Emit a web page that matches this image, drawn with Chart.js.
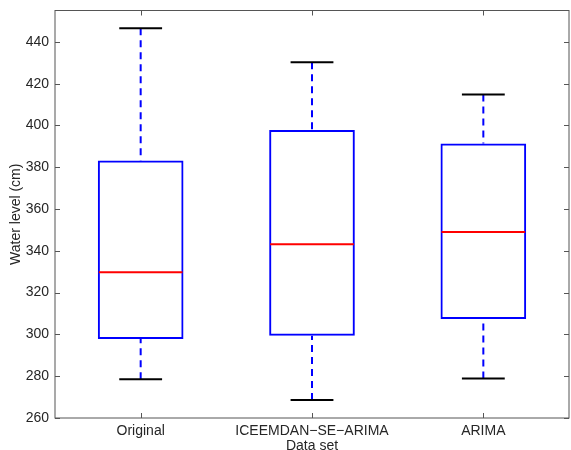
<!DOCTYPE html>
<html>
<head>
<meta charset="utf-8">
<script src="https://cdn.jsdelivr.net/npm/chart.js@4.4.1/dist/chart.umd.min.js"></script>
<style>
    html, body { margin: 0; padding: 0; background: #fff; }
    #chartWrap { width: 571px; height: 450px; }
</style>
</head>
<body>
<div id="chartWrap"><canvas id="boxChart" width="571" height="450"></canvas></div>
<script>
// ===============================
// Datos del diagrama de cajas
// ===============================
const categorias = ['Original', 'ICEEMDAN\u2212SE\u2212ARIMA', 'ARIMA'];
const minimos = [278.6, 268.6, 278.9];
const cuartil1 = [297.8, 299.4, 307.4];
const medianas = [329.8, 343.2, 349.0];
const cuartil3 = [383.2, 397.8, 391.3];
const maximos = [446.5, 430.2, 414.8];
const ticksY = [260, 280, 300, 320, 340, 360, 380, 400, 420, 440];

const FUENTE = 'Helvetica, "Liberation Sans", Arial, sans-serif';
const COLOR_MARCO = '#555555';

/**
 * Dibuja bigotes, topes, medianas y el marco estilo MATLAB
 * usando las escalas del propio gráfico.
 */
const boxplotExtras = {
    id: 'boxplotExtras',
    beforeDatasetsDraw(chart) {
        const { ctx, scales: { x, y } } = chart;
        ctx.save();
        ctx.strokeStyle = '#0000ff';
        ctx.lineWidth = 2;
        ctx.setLineDash([7, 5]);
        categorias.forEach((_, i) => {
            const px = x.getPixelForValue(i);
            // bigote superior (desde el tope hacia la caja)
            ctx.beginPath();
            ctx.moveTo(px, y.getPixelForValue(maximos[i]));
            ctx.lineTo(px, y.getPixelForValue(cuartil3[i]));
            ctx.stroke();
            // bigote inferior
            ctx.beginPath();
            ctx.moveTo(px, y.getPixelForValue(minimos[i]));
            ctx.lineTo(px, y.getPixelForValue(cuartil1[i]));
            ctx.stroke();
        });
        ctx.restore();
    },
    afterDatasetsDraw(chart) {
        const { ctx, chartArea: area, scales: { x, y } } = chart;
        const unidad = x.getPixelForValue(1) - x.getPixelForValue(0);
        ctx.save();
        ctx.setLineDash([]);
        categorias.forEach((_, i) => {
            const px = x.getPixelForValue(i);
            // topes negros
            ctx.strokeStyle = '#000000';
            ctx.lineWidth = 2;
            [minimos[i], maximos[i]].forEach(v => {
                const py = y.getPixelForValue(v);
                ctx.beginPath();
                ctx.moveTo(px - unidad * 0.125, py);
                ctx.lineTo(px + unidad * 0.125, py);
                ctx.stroke();
            });
            // mediana roja
            const pm = y.getPixelForValue(medianas[i]);
            ctx.strokeStyle = '#ff0000';
            ctx.beginPath();
            ctx.moveTo(px - unidad * 0.25 + 1, pm);
            ctx.lineTo(px + unidad * 0.25 - 1, pm);
            ctx.stroke();
        });

        // marco y marcas hacia adentro
        ctx.strokeStyle = COLOR_MARCO;
        ctx.lineWidth = 1;
        ctx.strokeRect(area.left, area.top, area.right - area.left, area.bottom - area.top);
        const largo = 5;
        ctx.beginPath();
        ticksY.forEach(v => {
            const py = Math.round(y.getPixelForValue(v)) + 0.5;
            ctx.moveTo(area.left, py); ctx.lineTo(area.left + largo, py);
            ctx.moveTo(area.right, py); ctx.lineTo(area.right - largo, py);
        });
        categorias.forEach((_, i) => {
            const px = Math.round(x.getPixelForValue(i)) + 0.5;
            ctx.moveTo(px, area.bottom); ctx.lineTo(px, area.bottom - largo);
            ctx.moveTo(px, area.top); ctx.lineTo(px, area.top + largo);
        });
        ctx.stroke();
        ctx.restore();
    }
};

const ctxBox = document.getElementById('boxChart').getContext('2d');
window.boxChart = new Chart(ctxBox, {
    type: 'bar',
    data: {
        labels: categorias,
        datasets: [{
            label: 'Caja',
            data: categorias.map((_, i) => [cuartil1[i], cuartil3[i]]),
            backgroundColor: 'rgba(0,0,0,0)',
            borderColor: '#0000ff',
            borderWidth: 2,
            borderSkipped: false,
            categoryPercentage: 1,
            barPercentage: 0.5
        }]
    },
    options: {
        responsive: false,
        animation: false,
        events: [],
        layout: { padding: { top: 10.5, right: 2, left: 0, bottom: 0 } },
        plugins: {
            legend: { display: false },
            tooltip: { enabled: false }
        },
        scales: {
            x: {
                type: 'category',
                offset: true,
                grid: { display: false, drawTicks: false },
                border: { display: false },
                ticks: { color: '#262626', padding: 5, font: { family: FUENTE, size: 14 } },
                title: {
                    display: true,
                    text: 'Data set',
                    color: '#262626',
                    padding: { top: 0, bottom: 0 },
                    font: { family: FUENTE, size: 14, lineHeight: 0.6 }
                },
                afterFit(scale) {
                    scale.height = 32;
                    scale.paddingLeft = 0;
                    scale.paddingRight = 0;
                }
            },
            y: {
                min: 260,
                max: 455,
                grid: { display: false, drawTicks: false },
                border: { display: false },
                afterBuildTicks(scale) { scale.ticks = ticksY.map(v => ({ value: v })); },
                ticks: { color: '#262626', padding: 6, font: { family: FUENTE, size: 14 } },
                title: {
                    display: true,
                    text: 'Water level (cm)',
                    color: '#262626',
                    padding: { top: 8, bottom: 0 },
                    font: { family: FUENTE, size: 14 }
                },
                afterFit(scale) {
                    scale.width = 55;
                    // sin reserva extra arriba/abajo para las etiquetas
                    scale.paddingTop = 0;
                    scale.paddingBottom = 0;
                }
            }
        }
    },
    plugins: [boxplotExtras]
});
</script>
</body>
</html>
